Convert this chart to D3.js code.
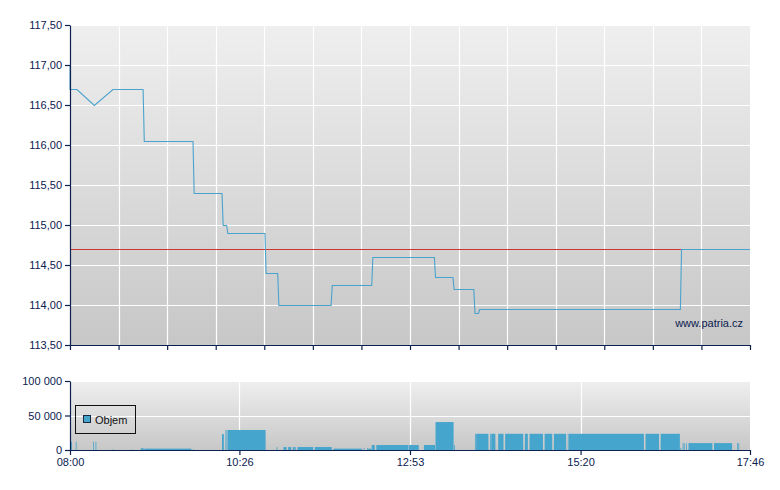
<!DOCTYPE html>
<html>
<head>
<meta charset="utf-8">
<script src="https://cdn.jsdelivr.net/npm/d3@7"></script>
<style>
  body { margin: 0; background: #fff; }
  text { font-family: "Liberation Sans", Arial, sans-serif; font-size: 11px; fill: #0b2150; }
</style>
</head>
<body>
<svg id="chart" width="780" height="490"></svg>
<script>
// ---------- DATA ----------
const sessionStart = "08:00";
const sessionEnd = "17:46";
const priceTicks = [113.5, 114.0, 114.5, 115.0, 115.5, 116.0, 116.5, 117.0, 117.5];
const volumeTicks = [0, 50000, 100000];
const timeLabels = ["08:00", "10:26", "12:53", "15:20", "17:46"];
const previousClose = 114.70;
const watermark = "www.patria.cz";
const legendLabel = "Objem";

const priceTimes = ["08:00","08:00","08:06","08:21","08:37","09:03","09:04","09:46","09:47",
  "10:11","10:12","10:15","10:16","10:48","10:49","10:59","11:00","11:45","11:46","12:20",
  "12:21","13:14","13:15","13:30","13:31","13:48","13:49","13:52","13:53","16:46","16:47","17:46"];
const prices = [117.00,116.70,116.70,116.50,116.70,116.70,116.05,116.05,115.40,
  115.40,115.00,115.00,114.90,114.90,114.40,114.40,114.00,114.00,114.25,114.25,
  114.60,114.60,114.35,114.35,114.20,114.20,113.90,113.90,113.95,113.95,114.70,114.70];

const volStart = ["08:00","08:05","08:20","08:22","08:37","08:53","09:01","09:04","09:46",
  "10:11","10:14","10:15","10:16","10:58","11:04","11:08","11:12","11:14","11:16","11:31",
  "11:47","12:13","12:16","12:17","12:20","12:24","12:52","13:05","13:15","13:31",
  "13:49","13:50","14:02","14:03","14:09","14:15","14:32","14:36","14:49","14:57","15:09",
  "15:10","16:16","16:29","16:46","16:48","16:49","16:51","16:53","17:15","17:35","17:36"];
const volEnd = ["08:02","08:06","08:21","08:23","08:38","08:54","09:04","09:45","09:47",
  "10:13","10:15","10:16","10:49","10:59","11:07","11:11","11:14","11:15","11:30","11:46",
  "12:12","12:14","12:17","12:20","12:23","12:52","13:01","13:15","13:31","13:32",
  "13:50","14:01","14:03","14:07","14:14","14:31","14:35","14:48","14:56","15:08","15:10",
  "16:15","16:28","16:46","16:47","16:49","16:50","16:52","17:14","17:31","17:36","17:37"];
const volumes = [12000,12000,12000,12000,1000,1000,2500,2000,1000,
  23000,29000,29000,29000,4300,4300,4300,4300,4300,4300,4300,
  2000,3000,3000,2000,7200,7200,7200,7200,40500,7200,
  23500,23500,23500,23500,23500,23500,23500,23500,23500,23500,23500,
  23500,23500,23500,3000,10000,10000,10000,10000,10000,10000,10000];

// ---------- HELPERS ----------
const toMin = s => { const [h, m] = s.split(":"); return +h * 60 + +m; };
const cz = d3.formatLocale({decimal: ",", thousands: " ", grouping: [3], currency: ["", " Kč"]});
const fmtPrice = cz.format(".2f");
const fmtVol = cz.format(",.0f");

const svg = d3.select("#chart");
const L = 70, R = 750;
const navy = "#0b2150";

const x = d3.scaleLinear().domain([toMin(sessionStart), toMin(sessionEnd)]).range([L, R]);
const yP = d3.scaleLinear().domain([113.5, 117.5]).range([345, 25]);
const yV = d3.scaleLinear().domain([0, 100000]).range([450, 381]);

const defs = svg.append("defs");
const grad = defs.append("linearGradient").attr("id", "bg").attr("x1", 0).attr("y1", 0).attr("x2", 0).attr("y2", 1);
grad.append("stop").attr("offset", "0%").attr("stop-color", "#efefef");
grad.append("stop").attr("offset", "100%").attr("stop-color", "#c7c7c7");

// ---------- PRICE PANEL ----------
const gP = svg.append("g");
gP.append("rect").attr("x", L).attr("y", yP(117.5)).attr("width", R - L).attr("height", yP(113.5) - yP(117.5)).attr("fill", "url(#bg)");

// vertical ticks: 14 equal intervals
const [d0, d1] = x.domain();
const upperTicks = d3.range(15).map(i => d0 + i * (d1 - d0) / 14);

gP.selectAll(".hg").data(priceTicks).join("line")
  .attr("x1", L).attr("x2", R).attr("y1", d => Math.round(yP(d)) + 0.5).attr("y2", d => Math.round(yP(d)) + 0.5)
  .attr("stroke", "#ffffff").attr("stroke-width", 1.2);
gP.selectAll(".vg").data(upperTicks.slice(1, -1)).join("line")
  .attr("x1", d => Math.round(x(d)) + 0.5).attr("x2", d => Math.round(x(d)) + 0.5)
  .attr("y1", yP(117.5)).attr("y2", yP(113.5))
  .attr("stroke", "#ffffff").attr("stroke-width", 1.2);

// previous close line
gP.append("line").attr("x1", L).attr("x2", R)
  .attr("y1", Math.round(yP(previousClose)) + 0.5).attr("y2", Math.round(yP(previousClose)) + 0.5)
  .attr("stroke", "#cc3333").attr("stroke-width", 1);

// price line
const priceData = priceTimes.map((t, i) => ({t: toMin(t), p: prices[i]}));
gP.append("path").datum(priceData)
  .attr("d", d3.line().x(d => x(d.t)).y(d => Math.round(yP(d.p)) + 0.5))
  .attr("fill", "none").attr("stroke", "#4aa3cc").attr("stroke-width", 1.1);

// axes
const axP = gP.append("g").attr("transform", `translate(${L},0)`)
  .call(d3.axisLeft(yP).tickValues(priceTicks).tickFormat(fmtPrice).tickSize(5).tickSizeOuter(0));
const axPb = gP.append("g").attr("transform", `translate(0,${yP(113.5)})`)
  .call(d3.axisBottom(x).tickValues(upperTicks).tickFormat("").tickSize(5).tickSizeOuter(0));

gP.append("text").attr("x", 743).attr("y", 327).attr("text-anchor", "end").text(watermark);

// ---------- VOLUME PANEL ----------
const gV = svg.append("g");
gV.append("rect").attr("x", L).attr("y", yV(100000)).attr("width", R - L).attr("height", yV(0) - yV(100000)).attr("fill", "url(#bg)");
gV.selectAll(".hg").data([50000, 100000]).join("line")
  .attr("x1", L).attr("x2", R).attr("y1", d => Math.round(yV(d)) + 0.5).attr("y2", d => Math.round(yV(d)) + 0.5)
  .attr("stroke", "#ffffff").attr("stroke-width", 1.2);
gV.selectAll(".vg").data(timeLabels.slice(1, -1)).join("line")
  .attr("x1", d => Math.round(x(toMin(d))) + 0.5).attr("x2", d => Math.round(x(toMin(d))) + 0.5)
  .attr("y1", yV(100000)).attr("y2", yV(0))
  .attr("stroke", "#ffffff").attr("stroke-width", 1.2);

const volData = volStart.map((s, i) => ({s: toMin(s), e: toMin(volEnd[i]), v: volumes[i]}));
gV.selectAll(".bar").data(volData).join("rect")
  .attr("x", d => x(d.s))
  .attr("width", d => Math.max(0.8, x(d.e) - x(d.s) - 0.5))
  .attr("y", d => yV(d.v))
  .attr("height", d => yV(0) - yV(d.v))
  .attr("fill", "#46a5cd");

gV.append("g").attr("transform", `translate(${L},0)`)
  .call(d3.axisLeft(yV).tickValues(volumeTicks).tickFormat(fmtVol).tickSize(5).tickSizeOuter(0));
gV.append("g").attr("transform", `translate(0,${yV(0)})`)
  .call(d3.axisBottom(x).tickValues(timeLabels.map(toMin)).tickFormat((d, i) => timeLabels[i]).tickSize(5).tickSizeOuter(0));

// legend
const lg = gV.append("g");
lg.append("rect").attr("x", 75.5).attr("y", 405.5).attr("width", 60).attr("height", 28)
  .attr("fill", "none").attr("stroke", "#111").attr("stroke-width", 1);
lg.append("rect").attr("x", 83.5).attr("y", 415.5).attr("width", 7).attr("height", 7)
  .attr("fill", "#46a5cd").attr("stroke", "#1a2a40").attr("stroke-width", 1);
lg.append("text").attr("x", 95).attr("y", 424).style("fill", "#111").text(legendLabel);

// axis styling
svg.selectAll(".domain").attr("stroke", navy).attr("stroke-width", 1.2);
svg.selectAll(".tick line").attr("stroke", navy).attr("stroke-width", 1.2);
svg.selectAll(".tick text").attr("fill", navy).style("font-family", '"Liberation Sans", Arial, sans-serif').style("font-size", "11px");
</script>
</body>
</html>
